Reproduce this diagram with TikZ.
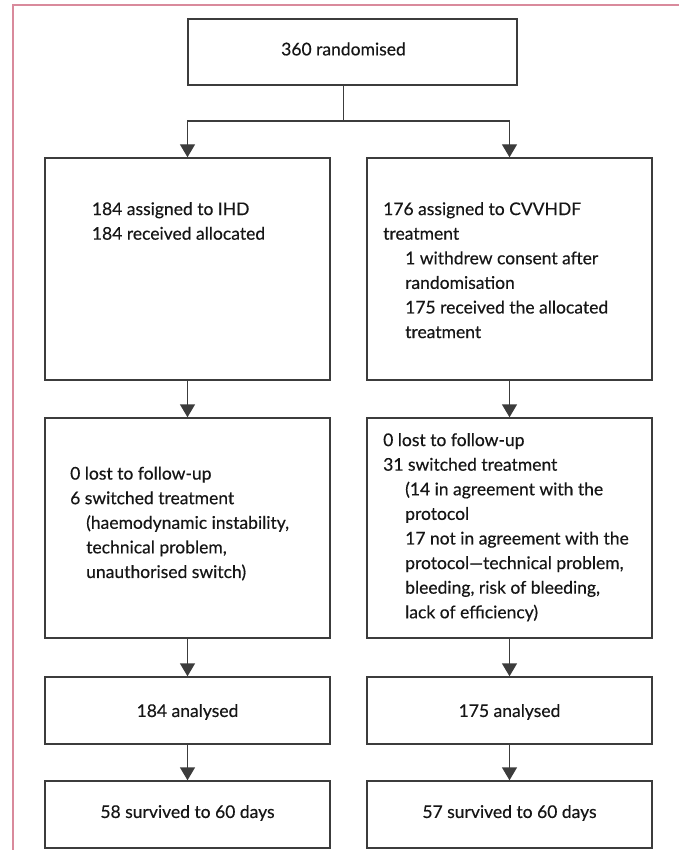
\documentclass[tikz,border=0pt]{standalone}
\usepackage{fontspec}
\setmainfont{Lato}[FakeBold=0.4]
\usetikzlibrary{arrows.meta}
\definecolor{pinkb}{HTML}{D98A9C}
\definecolor{linec}{HTML}{3C3C3C}
\definecolor{txt}{HTML}{161616}
\tikzset{
  box/.style={draw=linec, line width=1.4pt, rectangle, inner sep=0pt},
  arr/.style={draw=linec, line width=1.4pt, -{Triangle[length=13pt,width=15pt]}},
  conn/.style={draw=linec, line width=1.4pt},
  lbl/.style={inner sep=0pt, text=txt, font=\fontsize{17.5}{24.6}\selectfont},
  mlbl/.style={lbl, align=left, anchor=north west},
}
\begin{document}
\begin{tikzpicture}[x=1pt,y=-1pt]
\useasboundingbox (0,0) rectangle (679,850);
% pink frame
\draw[pinkb, line width=2pt] (12.7,850) -- (12.7,5) -- (679,5);
% boxes
\node[box, minimum width=329pt, minimum height=66pt] (top) at (352.5,52) {};
\node[box, minimum width=285pt, minimum height=222pt] (l2) at (187.5,269) {};
\node[box, minimum width=285pt, minimum height=222pt] (r2) at (509.5,269) {};
\node[box, minimum width=285pt, minimum height=220pt] (l3) at (187.5,528) {};
\node[box, minimum width=285pt, minimum height=220pt] (r3) at (509.5,528) {};
\node[box, minimum width=285pt, minimum height=67pt] (l4) at (187.5,710.5) {};
\node[box, minimum width=285pt, minimum height=67pt] (r4) at (509.5,710.5) {};
\node[box, minimum width=285pt, minimum height=67pt] (l5) at (187.5,814.5) {};
\node[box, minimum width=285pt, minimum height=67pt] (r5) at (509.5,814.5) {};
% texts
\node[lbl] (t1) at (343.5,49) {360 randomised};
\node[mlbl] (tl2) at (91.7,202) {184 assigned to IHD\\184 received allocated};
\node[mlbl] (tr2) at (383,202) {176 assigned to CVVHDF\\treatment\\
  \hspace*{22pt}1 withdrew consent after\\\hspace*{22pt}randomisation\\
  \hspace*{22pt}175 received the allocated\\\hspace*{22pt}treatment};
\node[mlbl] (tl3) at (70,466.5) {0 lost to follow-up\\6 switched treatment\\
  \hspace*{16pt}(haemodynamic instability,\\\hspace*{16pt}technical problem,\\
  \hspace*{16pt}unauthorised switch)};
\node[mlbl] (tr3) at (383,433) {0 lost to follow-up\\31 switched treatment\\
  \hspace*{22pt}(14 in agreement with the\\\hspace*{22pt}protocol\\
  \hspace*{22pt}17 not in agreement with the\\\hspace*{22pt}protocol—technical problem,\\
  \hspace*{22pt}bleeding, risk of bleeding,\\\hspace*{22pt}lack of efficiency)};
\node[lbl] (tl4) at (187.5,712) {184 analysed};
\node[lbl] (tr4) at (509.5,712) {175 analysed};
\node[lbl] (tl5) at (187.5,813) {58 survived to 60 days};
\node[lbl] (tr5) at (509.5,813) {57 survived to 60 days};
% connectors
\coordinate (s0) at (343.5,85);
\coordinate (split) at (343.5,121);
\draw[conn] (s0) -- (split);
\draw[arr] (split) -| (l2.north);
\draw[arr] (split) -| (r2.north);
\draw[arr] (l2) -- (l3);
\draw[arr] (r2) -- (r3);
\draw[arr] (l3) -- (l4);
\draw[arr] (r3) -- (r4);
\draw[arr] (l4) -- (l5);
\draw[arr] (r4) -- (r5);
\end{tikzpicture}
\end{document}
